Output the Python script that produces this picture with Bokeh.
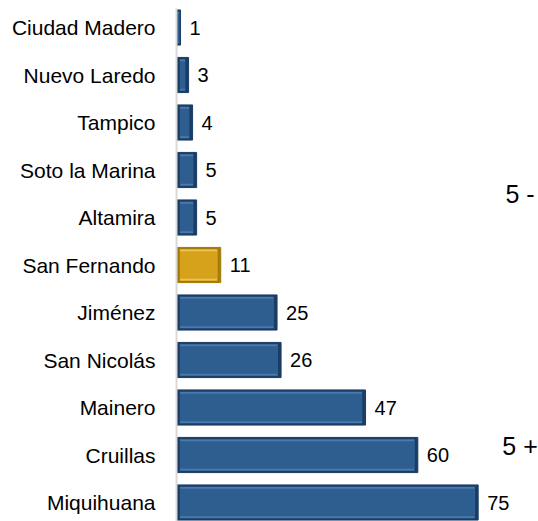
from bokeh.plotting import figure
from bokeh.models import FactorRange, Range1d, Label, ColumnDataSource
from bokeh.core.properties import value
from bokeh.embed import file_html
from bokeh.resources import INLINE

cities = ["Ciudad Madero", "Nuevo Laredo", "Tampico", "Soto la Marina", "Altamira",
          "San Fernando", "Jiménez", "San Nicolás", "Mainero", "Cruillas", "Miquihuana"]
counts = [1, 3, 4, 5, 5, 11, 25, 26, 47, 60, 75]
highlight = "San Fernando"
group_labels = ["5 -", "5 +"]

FONT = "Liberation Sans"
BLUE_MAIN, BLUE_EDGE, BLUE_LIGHT = "#2E5D8F", "#1A3D66", "#4A7AAD"
GOLD_MAIN, GOLD_EDGE, GOLD_LIGHT = "#D6A21C", "#A57A08", "#EBC552"

main_c = [GOLD_MAIN if c == highlight else BLUE_MAIN for c in cities]
edge_c = [GOLD_EDGE if c == highlight else BLUE_EDGE for c in cities]
light_c = [GOLD_LIGHT if c == highlight else BLUE_LIGHT for c in cities]
inset = 0.85
inner_left = [min(inset, v * 0.3) for v in counts]
inner_right = [max(v - inset, v * 0.7) for v in counts]

src = ColumnDataSource(dict(city=cities, n=counts, main=main_c, edge=edge_c, light=light_c,
                            il=inner_left, ir=inner_right, lbl=[str(v) for v in counts]))

p = figure(width=538, height=521, output_backend="svg", toolbar_location=None,
           y_range=FactorRange(factors=list(reversed(cities)), range_padding=-0.1,
                               range_padding_units="absolute"),
           x_range=Range1d(0, 90),
           min_border_left=176, min_border_right=0, min_border_top=8, min_border_bottom=0)

# bevelled bars: dark edge, light top strip, main face
p.hbar(y="city", left=0, right="n", height=0.74, source=src,
       fill_color="edge", line_color="edge", line_width=1)
p.hbar(y="city", left="il", right="ir", height=0.66, source=src,
       fill_color="light", line_color=None)
p.hbar(y="city", left="il", right="ir", height=0.58, source=src,
       fill_color="main", line_color=None)

p.text(x="n", y="city", text="lbl", source=src, x_offset=9, text_baseline="middle",
       text_align="left", text_font=value(FONT), text_font_size="20px", text_color="#000000")

p.add_layout(Label(x=81.8, y=7.0, text=group_labels[0], text_font=FONT, text_font_size="25px",
                   text_baseline="middle", text_color="#000000"))
p.add_layout(Label(x=81.0, y=1.69, text=group_labels[1], text_font=FONT, text_font_size="25px",
                   text_baseline="middle", text_color="#000000"))

p.xaxis.visible = False
p.xgrid.visible = False
p.ygrid.visible = False
p.outline_line_color = None
ax = p.yaxis[0]
ax.axis_line_color = "#D9D9D9"
ax.axis_line_width = 2
ax.major_tick_line_color = None
ax.minor_tick_line_color = None
ax.major_label_standoff = 15
ax.major_label_text_font = FONT
ax.major_label_text_font_size = "21px"
ax.major_label_text_color = "#000000"

open("out.html", "w").write(file_html(p, INLINE))
